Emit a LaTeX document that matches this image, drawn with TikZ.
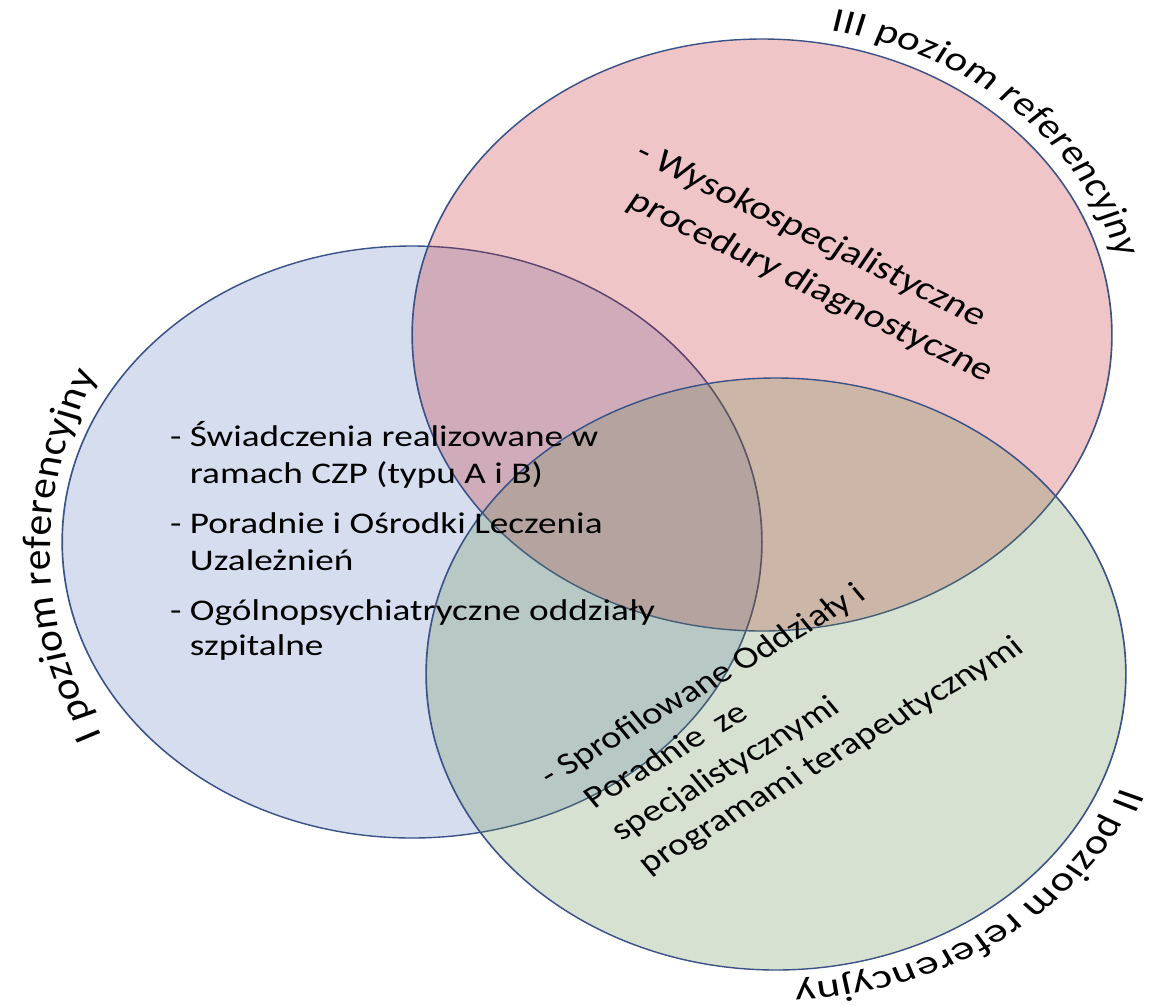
\documentclass[tikz,border=0pt]{standalone}
\usepackage{fontspec}
\setmainfont{Carlito}
\newfontfamily\bodyfam[FakeStretch=1.05]{Carlito}
\newfontfamily\lblIfam[FakeStretch=1.22]{Carlito}
\newfontfamily\lblIIfam[FakeStretch=1.13]{Carlito}
\newfontfamily\lblIIIfam[FakeStretch=1.08]{Carlito}
\usetikzlibrary{decorations.text}
\definecolor{cblue}{RGB}{91,123,195}
\definecolor{cred}{RGB}{195,27,35}
\definecolor{cgreen}{RGB}{99,139,75}
\definecolor{cline}{RGB}{58,82,135}
\newcommand\bluetxt{\bodyfam\fontsize{30}{36}\selectfont}
\newcommand\redtxt{\bodyfam\fontsize{33}{40}\selectfont}
\newcommand\greentxt{\bodyfam\fontsize{31}{38}\selectfont}
\newcommand\lblsize{\fontsize{34}{40}\selectfont}
\begin{document}
\begin{tikzpicture}[x=1pt,y=1pt,
  venn/.style={circle, draw=cline, line width=1.4pt, fill opacity=0.25, minimum size=592pt, inner sep=0pt},
  txtline/.style={inner sep=0pt, outer sep=0pt, anchor=base west, text=black},
  arclabel/.style 2 args={decorate, decoration={text along path, text={|#1\lblsize|#2}, text align=fit to path}}]
\useasboundingbox (0,0) rectangle (1149,-1005);
\fill[white] (0,0) rectangle (1149,-1005);
\begin{scope}[transform canvas={xscale=1.182}]
  % circles
  \node[venn, fill=cblue] (blue) at (348.6,-542) {};
  \node[venn, fill=cred] (red) at (644.7,-335) {};
  \node[venn, fill=cgreen] (green) at (656.5,-674) {};
  % arc label centres
  \coordinate (cI) at (451.4,-550.6);
  \coordinate (cII) at (657.5,-670);
  % arc labels
  \path[arclabel={\lblIfam}{I poziom referencyjny}]
    ([shift={(cI)}]207:409pt) arc[start angle=207, end angle=154.5, radius=409pt];
  \path[arclabel={\lblIIIfam}{III poziom referencyjny}]
    ([shift={(red.center)}]79.3:310pt) arc[start angle=79.3, end angle=14.6, radius=310pt];
  \path[arclabel={\lblIIfam}{II poziom referencyjny}]
    ([shift={(cII)}]-22:314pt) arc[start angle=-22, end angle=-87.3, radius=314pt];
  % blue text
  \node[txtline, font=\bluetxt] (b1) at (160.7,-446.7) {\llap{- }Świadczenia realizowane w};
  \node[txtline, font=\bluetxt] (b2) at (160.7,-483.3) {ramach CZP (typu A i B)};
  \node[txtline, font=\bluetxt] (b3) at (160.7,-533.3) {\llap{- }Poradnie i Ośrodki Leczenia};
  \node[txtline, font=\bluetxt] (b4) at (160.7,-570) {Uzależnień};
  \node[txtline, font=\bluetxt] (b5) at (160.7,-620) {\llap{- }Ogólnopsychiatryczne oddziały};
  \node[txtline, font=\bluetxt] (b6) at (160.7,-655) {szpitalne};
  % red text
  \node[txtline, font=\redtxt, rotate=-30] (r1) at (551.8,-167.7) {\llap{- }Wysokospecjalistyczne};
  \node[txtline, font=\redtxt, rotate=-30] (r2) at (529.3,-206.7) {procedury diagnostyczne};
  % green text
  \node[txtline, font=\greentxt, rotate=35] (g1) at (480.1,-776.2) {\llap{- }Sprofilowane Oddziały i};
  \node[txtline, font=\greentxt, rotate=35] (g2) at (503,-809) {Poradnie\ \ ze};
  \node[txtline, font=\greentxt, rotate=35] (g3) at (525.9,-841.8) {specjalistycznymi};
  \node[txtline, font=\greentxt, rotate=35] (g4) at (548.8,-874.6) {programami terapeutycznymi};
\end{scope}
\end{tikzpicture}
\end{document}
